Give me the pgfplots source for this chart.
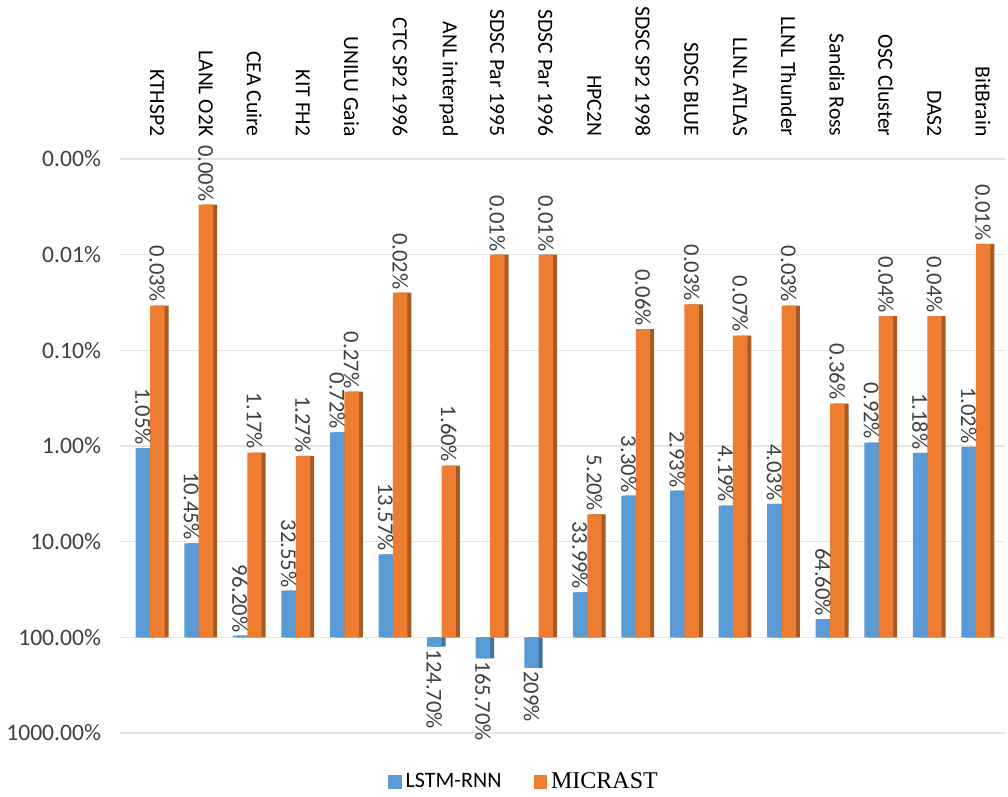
\documentclass[border=0pt]{standalone}
\usepackage{pgfplots}
\pgfplotsset{compat=1.18}
\usepackage{pgfplotstable}
\usepackage{fontspec}
\setmainfont{Carlito}
\newfontfamily\timesfont{Liberation Serif}

\definecolor{lstm}{HTML}{5B9BD5}
\definecolor{lstmside}{HTML}{41719C}
\definecolor{micr}{HTML}{ED7D31}
\definecolor{micrside}{HTML}{A85A22}
\definecolor{txt}{HTML}{404040}

% y = error as a fraction (1 = 100%), lab = printed value
\pgfplotstableread{
x y lab
0 0.0105 1.05
1 0.1045 10.45
2 0.962 96.20
3 0.3255 32.55
4 0.0072 0.72
5 0.1357 13.57
9 0.3399 33.99
10 0.033 3.30
11 0.0293 2.93
12 0.0419 4.19
13 0.0403 4.03
14 0.646 64.60
15 0.0092 0.92
16 0.0118 1.18
17 0.0102 1.02
}\lstmup

% LSTM-RNN errors above 100%
\pgfplotstableread{
x y lab
6 1.247 124.70
7 1.657 165.70
8 2.09 209
}\lstmdown

\pgfplotstableread{
x y lab
0 0.00034 0.03
1 0.00003 0.00
2 0.0117 1.17
3 0.0127 1.27
4 0.0027 0.27
5 0.00025 0.02
6 0.016 1.60
7 0.0001 0.01
8 0.0001 0.01
9 0.052 5.20
10 0.0006 0.06
11 0.00033 0.03
12 0.0007 0.07
13 0.00034 0.03
14 0.0036 0.36
15 0.00044 0.04
16 0.00044 0.04
17 0.000077 0.01
}\micrdata

\pgfplotsset{
    lbl/.style={point meta=explicit symbolic,
        nodes near coords={\pgfplotspointmeta\%},
        every node near coord/.append style={font=\fontsize{11.3}{13}\selectfont,
            text=txt, rotate=-90, anchor=#1, inner sep=1.5pt}},
}

\begin{document}
\begin{tikzpicture}
\begin{axis}[
    name=ax,
    scale only axis,
    width=442.5pt, height=287pt,
    xmin=-0.62, xmax=17.6,
    ymode=log, y dir=reverse,
    ymin=1e-5, ymax=10,
    ybar, bar width=7.2pt,
    ytick={1e-5,1e-4,1e-3,1e-2,1e-1,1,10},
    yticklabels={0.00\%,0.01\%,0.10\%,1.00\%,10.00\%,100.00\%,1000.00\%},
    yticklabel style={font=\fontsize{11.8}{13}\selectfont, text=txt, xshift=-6pt},
    xtick={0,...,17},
    xticklabels={KTHSP2,LANL O2K,CEA Cuire,KIT FH2,UNILU Gaia,CTC SP2 1996,
        ANL interpad,SDSC Par 1995,SDSC Par 1996,HPC2N,SDSC SP2 1998,SDSC BLUE,
        LLNL ATLAS,LLNL Thunder,Sandia Ross,OSC Cluster,DAS2,BitBrain},
    xticklabel pos=upper,
    xticklabel style={font=\fontsize{10.8}{13}\selectfont, text=black,
        xshift=3.5pt, yshift=3.5pt, rotate=-90, anchor=east},
    ymajorgrids,
    major grid style={draw=black!10, line width=0.8pt},
    axis line style={draw=none},
    tick style={draw=none},
    legend style={at={(0.4576,-0.085)}, anchor=center, draw=none, fill=none,
        legend columns=2, font=\fontsize{11}{13}\selectfont,
        /tikz/every even column/.append style={column sep=14pt}},
]
% side faces
\addplot[fill=lstmside, draw=none, bar shift=-1.6pt, forget plot]
    table[x=x, y=y] {\lstmup};
\addplot[fill=lstmside, draw=none, bar shift=-1.6pt, forget plot]
    table[x=x, y=y] {\lstmdown};
\addplot[fill=lstm, draw=none, bar shift=-3.6pt,
    legend image code/.code={\fill[lstm] (0pt,-3.4pt) rectangle (6.8pt,3.4pt);},
    lbl=east]
    table[x=x, y=y, meta=lab] {\lstmup};
\addlegendentry{LSTM-RNN}
\addplot[fill=lstm, draw=none, bar shift=-3.6pt, forget plot, lbl=west]
    table[x=x, y=y, meta=lab] {\lstmdown};
\addplot[fill=micrside, draw=none, bar shift=5.6pt, forget plot]
    table[x=x, y=y] {\micrdata};
\addplot[fill=micr, draw=none, bar shift=3.6pt,
    legend image code/.code={\fill[micr] (0pt,-3.4pt) rectangle (6.8pt,3.4pt);},
    lbl=east]
    table[x=x, y=y, meta=lab] {\micrdata};
\addlegendentry{\timesfont\fontsize{12}{14}\selectfont MICRAST}
\end{axis}
\pgfresetboundingbox
\path ([xshift=-60pt,yshift=-32pt]ax.south west) rectangle ([xshift=1.5pt,yshift=79.5pt]ax.north east);
\end{tikzpicture}
\end{document}
